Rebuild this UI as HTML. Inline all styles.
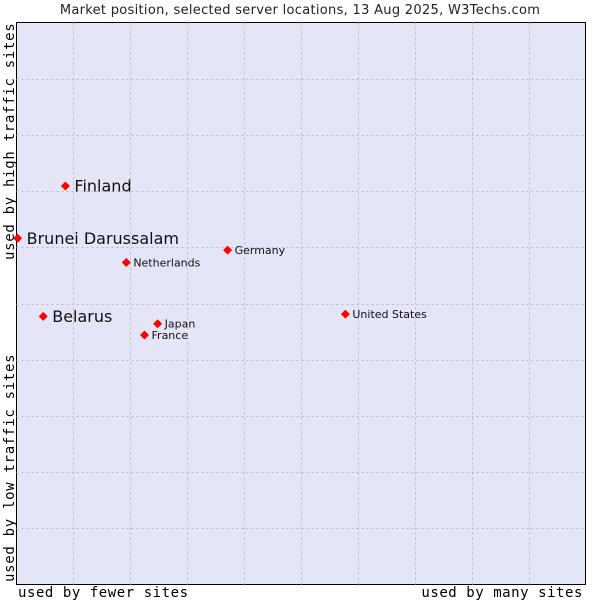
<!DOCTYPE html>
<html><head><meta charset="utf-8"><style>
body{margin:0;background:#fff;width:600px;height:600px;overflow:hidden}
svg text{font-family:"DejaVu Sans","Liberation Sans",sans-serif}
.mono{font-family:"DejaVu Sans Mono","Liberation Mono",monospace}
</style></head><body>
<svg id="chart" width="600" height="600">
<text x="300" y="14" text-anchor="middle" font-size="13" letter-spacing="0.3" fill="#222">Market position, selected server locations, 13 Aug 2025, W3Techs.com</text>
<rect x="16.5" y="22.5" width="569" height="562" fill="#e4e6f8" stroke="#000"/>
<g id="grid"></g>
<g id="points"></g>
<text class="mono" x="18" y="597" font-size="14" letter-spacing="0.55">used by fewer sites</text>
<text class="mono" x="583" y="597" font-size="14" letter-spacing="0.55" text-anchor="end">used by many sites</text>
<text class="mono" transform="translate(14,260) rotate(-90)" font-size="14" letter-spacing="0.7">used by high traffic sites</text>
<text class="mono" transform="translate(14,582) rotate(-90)" font-size="14" letter-spacing="0.7">used by low traffic sites</text>
</svg>
<script>
const names=["Finland","Brunei Darussalam","Belarus","Netherlands","Germany","United States","Japan","France"];
const xVals=[8.6,0.2,4.7,19.3,37.1,57.8,24.8,22.5];
const yVals=[70.9,61.6,47.7,57.3,59.5,48.1,46.4,44.4];
const big=[true,true,true,false,false,false,false,false];
const L=16.5,T=22.5,W=569,H=562;
const sx=v=>L+v/100*W, sy=v=>T+H-v/100*H;
const NS="http://www.w3.org/2000/svg";
const grid=document.getElementById('grid'),pts=document.getElementById('points');
for(let i=1;i<10;i++){
 const v=document.createElementNS(NS,'line');
 const x=Math.round(sx(i*10))+0.5;
 v.setAttribute('x1',x);v.setAttribute('x2',x);v.setAttribute('y1',T);v.setAttribute('y2',T+H);
 v.setAttribute('stroke','#bbbbbb');v.setAttribute('stroke-dasharray','2,3');
 
 
 grid.appendChild(v);
 const h=document.createElementNS(NS,'line');
 const y=Math.round(sy(i*10))+0.5;
 h.setAttribute('x1',L);h.setAttribute('x2',L+W);h.setAttribute('y1',y);h.setAttribute('y2',y);
 h.setAttribute('stroke','#bbbbbb');h.setAttribute('stroke-dasharray','2,3');
 
 
 grid.appendChild(h);
}
names.forEach((n,i)=>{
 const x=sx(xVals[i]),y=sy(yVals[i]);
 const m=document.createElementNS(NS,'polygon');
 m.setAttribute('points',`${x},${y-4.5} ${x+4.5},${y} ${x},${y+4.5} ${x-4.5},${y}`);
 m.setAttribute('fill','#f00');
 
 
 pts.appendChild(m);
 const t=document.createElementNS(NS,'text');
 t.setAttribute('x',x+(big[i]?9:7));t.setAttribute('y',y+(big[i]?5.5:4));
 t.setAttribute('font-size',big[i]?16:11);t.setAttribute('fill','#111');
 t.textContent=n;
 
 
 pts.appendChild(t);
});
</script>
</body></html>
